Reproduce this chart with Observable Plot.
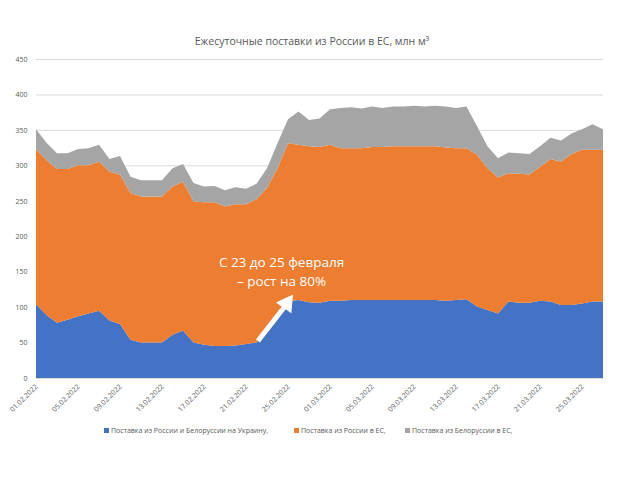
<!DOCTYPE html>
<html><head><meta charset="utf-8">
<script src="https://cdn.jsdelivr.net/npm/d3@7"></script>
<script src="https://cdn.jsdelivr.net/npm/@observablehq/plot@0.6"></script>
<style>
body{margin:0;background:#fff;font-family:"Open Sans",sans-serif;}
#wrap{position:relative;width:640px;height:480px;overflow:hidden;}
#title{position:absolute;top:34px;left:0;width:624px;text-align:center;font-size:10.5px;line-height:14px;color:#595959;}
#chart{position:absolute;top:50px;left:0;}
#legend{position:absolute;top:426px;left:0;width:640px;height:12px;font-size:7px;line-height:10px;color:#595959;}
.item{position:absolute;top:0;white-space:nowrap;}
.sw{display:inline-block;width:5px;height:5px;margin-right:2px;vertical-align:0px;}
</style></head><body>
<div id="wrap">
  <div id="title">Ежесуточные поставки из России в ЕС, млн м³</div>
  <div id="chart"></div>
  <div id="legend"></div>
</div>
<script>
// Categories
const startDate = "2022-02-01";
const endDate = "2022-03-27";
const seriesNames = [
  "Поставка из России и Белоруссии на Украину,",
  "Поставка из России в ЕС,",
  "Поставка из Белоруссии в ЕС,"
];
const seriesColors = ["#4472C4", "#ED7D31", "#A5A5A5"];
const tickLabels = ["01.02.2022","05.02.2022","09.02.2022","13.02.2022","17.02.2022","21.02.2022","25.02.2022","01.03.2022","05.03.2022","09.03.2022","13.03.2022","17.03.2022","21.03.2022","25.03.2022"];
const yTicks = [0,50,100,150,200,250,300,350,400,450];

// Series values (млн м³ per day), one per day 01.02 – 27.03
const ukraine = [104,89,78,82,87,91,95,81,76,54,50,50,50,61,67,50,47,45,45,46,48,50,65,88,108,110,107,106,109,109,110,110,110,110,110,110,110,110,110,109,110,111,101,96,91,108,106,106,109,108,103,103,105,108,108];
const russiaEU = [219,218,217,213,213,209,210,210,211,207,206,206,206,209,210,199,201,203,197,199,197,202,203,208,223,219,220,220,220,215,214,214,216,216,217,217,217,217,217,216,214,213,214,200,192,181,182,181,189,201,202,213,217,214,214];
const belarusEU = [28,25,22,22,23,24,24,18,26,23,23,23,23,26,25,26,22,23,23,24,22,22,28,35,34,47,37,40,50,57,58,56,57,55,56,56,57,56,57,58,57,59,40,31,27,29,29,29,29,30,30,29,29,36,29];

// Annotation
const noteText = ["С 23 до 25 февраля\n– рост на 80%"];
const noteDate = ["2022-02-24T08:00:00Z"];
const noteValue = [152];
const arrowFrom = {date: "2022-02-22T02:00:00Z", value: 53};
const arrowShaftEnd = {date: "2022-02-24T16:00:00Z", value: 102};
const arrowHead = {date: "2022-02-24T20:00:00Z", value: 106, angle: 35};

const parseTick = d3.utcParse("%d.%m.%Y");
const dates = d3.utcDay.range(new Date(startDate), d3.utcDay.offset(new Date(endDate), 1));
const seriesValues = [ukraine, russiaEU, belarusEU];
const data = [];
seriesNames.forEach((name, s) => {
  dates.forEach((d, i) => data.push({date: d, series: name, value: seriesValues[s][i]}));
});
const fmt = d3.utcFormat("%d.%m.%Y");

const chart = Plot.plot({
  width: 640,
  height: 375,
  marginTop: 9,
  marginBottom: 47,
  marginLeft: 36,
  marginRight: 37,
  style: {fontFamily: "Open Sans, sans-serif", fontSize: "7px", color: "#595959", background: "white"},
  x: {type: "utc", domain: [new Date(startDate), new Date(endDate)]},
  y: {domain: [0, 450]},
  color: {domain: seriesNames, range: seriesColors},
  marks: [
    Plot.ruleY(yTicks, {stroke: "#d9d9d9", strokeWidth: 1}),
    Plot.areaY(data, {x: "date", y: "value", fill: "series", z: "series", curve: "linear"}),
    Plot.ruleY([0], {stroke: "#d9d9d9"}),
    Plot.axisY({ticks: yTicks, tickSize: 0, tickPadding: 9, label: null}),
    Plot.axisX({ticks: tickLabels.map(parseTick), tickFormat: fmt, tickRotate: -45, tickSize: 0, tickPadding: 7, label: null}),
    Plot.link([{x1: new Date(arrowFrom.date), y1: arrowFrom.value, x2: new Date(arrowShaftEnd.date), y2: arrowShaftEnd.value}],
      {x1: "x1", y1: "y1", x2: "x2", y2: "y2", stroke: "white", strokeWidth: 5}),
    Plot.dot([arrowHead], {x: d => new Date(d.date), y: "value", symbol: "triangle", r: 7, fill: "white", stroke: "none", rotate: "angle"}),
    Plot.text(noteText.map((t, i) => ({text: t, date: new Date(noteDate[i]), value: noteValue[i]})),
      {x: "date", y: "value", text: "text", fill: "white", fontSize: 13.5, lineHeight: 1.4, textAnchor: "middle"})
  ]
});
document.getElementById("chart").appendChild(chart);

const legendPos = [104, 294, 405];
const legend = document.getElementById("legend");
seriesNames.forEach((name, i) => {
  const el = document.createElement("div");
  el.className = "item";
  el.style.left = legendPos[i] + "px";
  el.innerHTML = `<span class="sw" style="background:${seriesColors[i]}"></span>${name}`;
  legend.appendChild(el);
});
</script>
</body></html>
